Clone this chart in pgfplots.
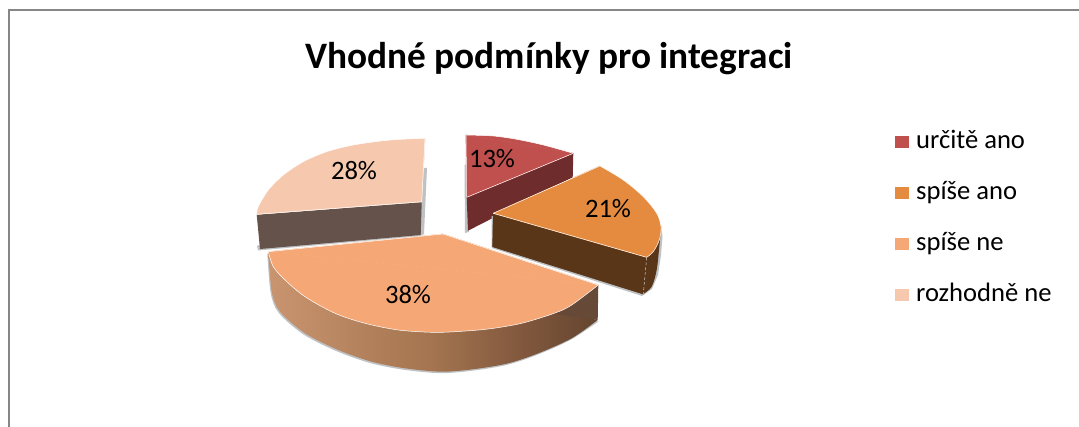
\documentclass[border=0pt]{standalone}
\usepackage{pgfplots}
\usepackage{pgfplotstable}
\usepackage{fontspec}
\setmainfont{Carlito}
\pgfplotsset{compat=1.18}

\definecolor{cUrcite}{HTML}{C0504D}
\definecolor{cSpiseAno}{HTML}{E48B40}
\definecolor{cSpiseNe}{HTML}{F5A876}
\definecolor{cRozhodne}{HTML}{F6C9AF}
\definecolor{sUrcite}{HTML}{6E2C2D}
\definecolor{sSpiseAno}{HTML}{5A3619}
\definecolor{sRozhodne}{HTML}{65524A}
\definecolor{frameGrey}{HTML}{868686}
\definecolor{dropGrey}{HTML}{BFC2C4}
\definecolor{rimA}{HTML}{C99570}
\definecolor{rimB}{HTML}{A3744F}
\definecolor{rimC}{HTML}{80573D}
\definecolor{rimD}{HTML}{64452F}
\definecolor{rimE}{HTML}{664937}

\pgfdeclarehorizontalshading{rimshade}{100bp}{
  color(0bp)=(rimA);
  color(25bp)=(rimA);
  color(50bp)=(rimB);
  color(64bp)=(rimC);
  color(75bp)=(rimD);
  color(100bp)=(rimE)}

\pgfplotsset{
  flatface/.style={forget plot, draw=none, fill=#1},
  wedge/.style={forget plot, draw=#1, line width=0.7pt, line join=round, fill=#1},
  edgeline/.style={forget plot, white, line width=0.5pt, line join=round},
  arcface/.style={smooth, draw=white, line width=0.5pt, fill=#1},
}

\begin{document}
\begin{tikzpicture}
\path[use as bounding box] (0,0) rectangle (1079pt,427pt);
\begin{axis}[
  scale only axis, width=1079pt, height=427pt,
  xmin=0, xmax=1079, ymin=0, ymax=427, y dir=reverse,
  hide axis,
  legend cell align=left,
  legend image code/.code={\fill[#1, draw=none] (0pt,-6pt) rectangle (14pt,6pt);},
  legend style={at={(axis cs:895,129)}, anchor=north west, draw=none, fill=none,
    font=\fontsize{26.6}{30}\selectfont, row sep=26pt, inner sep=0pt,
    nodes={inner xsep=7pt, inner ysep=0pt, text height=19pt, text depth=6pt}},
]
% chart frame
\addplot[forget plot, frameGrey, line width=2pt] coordinates {(8.5,427) (8.5,9.8) (1079,9.8)};

% urcite ano: 13 %
\addplot[flatface=dropGrey] coordinates {(464.5,165) (467,165) (469,232) (465,233)};
\addplot[flatface=sUrcite] coordinates {(466.7,197.3) (573.3,153.3) (572.7,177.3) (468,230.7)};
\addplot[wedge=cUrcite] coordinates {(466,135) (573.3,153.3) (466.7,197.3) (466,135)};
\addplot[arcface=cUrcite] coordinates {(466,135) (493.3,136) (516.7,139.3) (543.3,145) (573.3,153.3)};
\addlegendentry{určitě ano}
\addplot[edgeline] coordinates {(573.3,153.3) (466.7,197.3) (466,135)};

% spise ano: 21 %
\addplot[flatface=dropGrey] coordinates {(491.5,216) (491.5,248) (642,296) (652,289) (658,275) (661,255) (662.5,236) (661,226)};
\addplot[wedge=sSpiseAno] coordinates {(493.3,213.3) (646.7,257.3) (661,226.7) (643.3,294) (492.7,246.7) (493.3,213.3)};
\addplot[forget plot, smooth, draw=none, fill=sSpiseAno] coordinates {
  (661,226.7) (660.7,233) (659.3,246.7) (656.7,270) (651.7,286.7) (643.3,294)};
\addplot[forget plot, white!80!black, line width=0.5pt, densely dashed] coordinates {(646.7,257.3) (643.3,294)};
\addplot[wedge=cSpiseAno] coordinates {(493.3,213.3) (600,166) (646.7,257.3) (493.3,213.3)};
\addplot[arcface=cSpiseAno] coordinates {
  (600,166) (623.3,180) (643.3,196.7) (656.7,213.3) (661,226.7) (659.3,240) (653.3,251.7) (646.7,257.3)};
\addlegendentry{spíše ano}
\addplot[edgeline] coordinates {(646.7,257.3) (493.3,213.3) (600,166)};

% spise ne: 38 %
\addplot[forget plot, smooth, draw=none, fill=dropGrey, xshift=-1pt, yshift=-1.5pt] coordinates {
  (268.3,252) (271.7,291.7) (280,311.7) (305,333.3) (338.3,350) (371.7,361.7) (405,368.3)
  (441.7,371.7) (475,369) (508.3,363.3) (538.3,353.3) (571.7,338.3) (599.5,320)};
\addplot[forget plot, smooth, draw=none, shading=rimshade] coordinates {
  (268.3,252) (271.7,291.7) (280,311.7) (305,333.3) (338.3,350) (371.7,361.7) (405,368.3)
  (441.7,371.7) (475,369) (508.3,363.3) (538.3,353.3) (571.7,338.3) (597.7,320)};
\addplot[flatface=rimE] coordinates {(598.3,285) (597.7,320) (540,312)};
\addplot[wedge=cSpiseNe] coordinates {(443,234) (598.3,285) (268.3,251.7) (443,234)};
\addplot[arcface=cSpiseNe] coordinates {
  (598.3,285) (571.7,305) (555,313) (521.7,323.3) (488.3,329) (455,331.7)
  (431.7,332.3) (398.3,330) (365,323.3) (335,313.3) (305,296.7) (285,280) (273.3,266.7) (268.3,251.7)};
\addlegendentry{spíše ne}
\addplot[edgeline] coordinates {(268.3,251.7) (443,234) (598.3,285)};

% rozhodne ne: 28 %
\addplot[flatface=dropGrey] coordinates {(425,168) (427,168) (424,234) (420,236) (258,250.5) (257,246)};
\addplot[flatface=sRozhodne] coordinates {(256.7,214.7) (421.7,202.3) (420.7,235) (260,249)};
\addplot[wedge=cRozhodne] coordinates {(425,138.3) (256.7,214.3) (421.7,201.7) (425,138.3)};
\addplot[arcface=cRozhodne] coordinates {
  (425,138.3) (406.7,139) (383.3,140.7) (353.3,145) (326.7,151.7) (303.3,161.7) (283.3,175)
  (268.3,190) (258.3,206.7) (256.7,214.3)};
\addlegendentry{rozhodně ne}
\addplot[edgeline] coordinates {(256.7,214.3) (421.7,201.7) (425,138.3)};

% data labels
\addplot[forget plot, draw=none, mark=none, point meta=explicit symbolic,
  nodes near coords={\pgfplotspointmeta\%}, nodes near coords align=center,
  every node near coord/.append style={font=\fontsize{26.6}{30}\selectfont, text=black, inner sep=0pt}]
  table[x=x, y=y, meta=pct] {
x y pct
492 159 13
608 209 21
408 295 38
354 171 28
};

% chart title
\node[font=\fontsize{37.3}{42}\selectfont\bfseries, text=black] at (axis cs:549,59) {Vhodné podmínky pro integraci};
\end{axis}
\end{tikzpicture}
\end{document}
